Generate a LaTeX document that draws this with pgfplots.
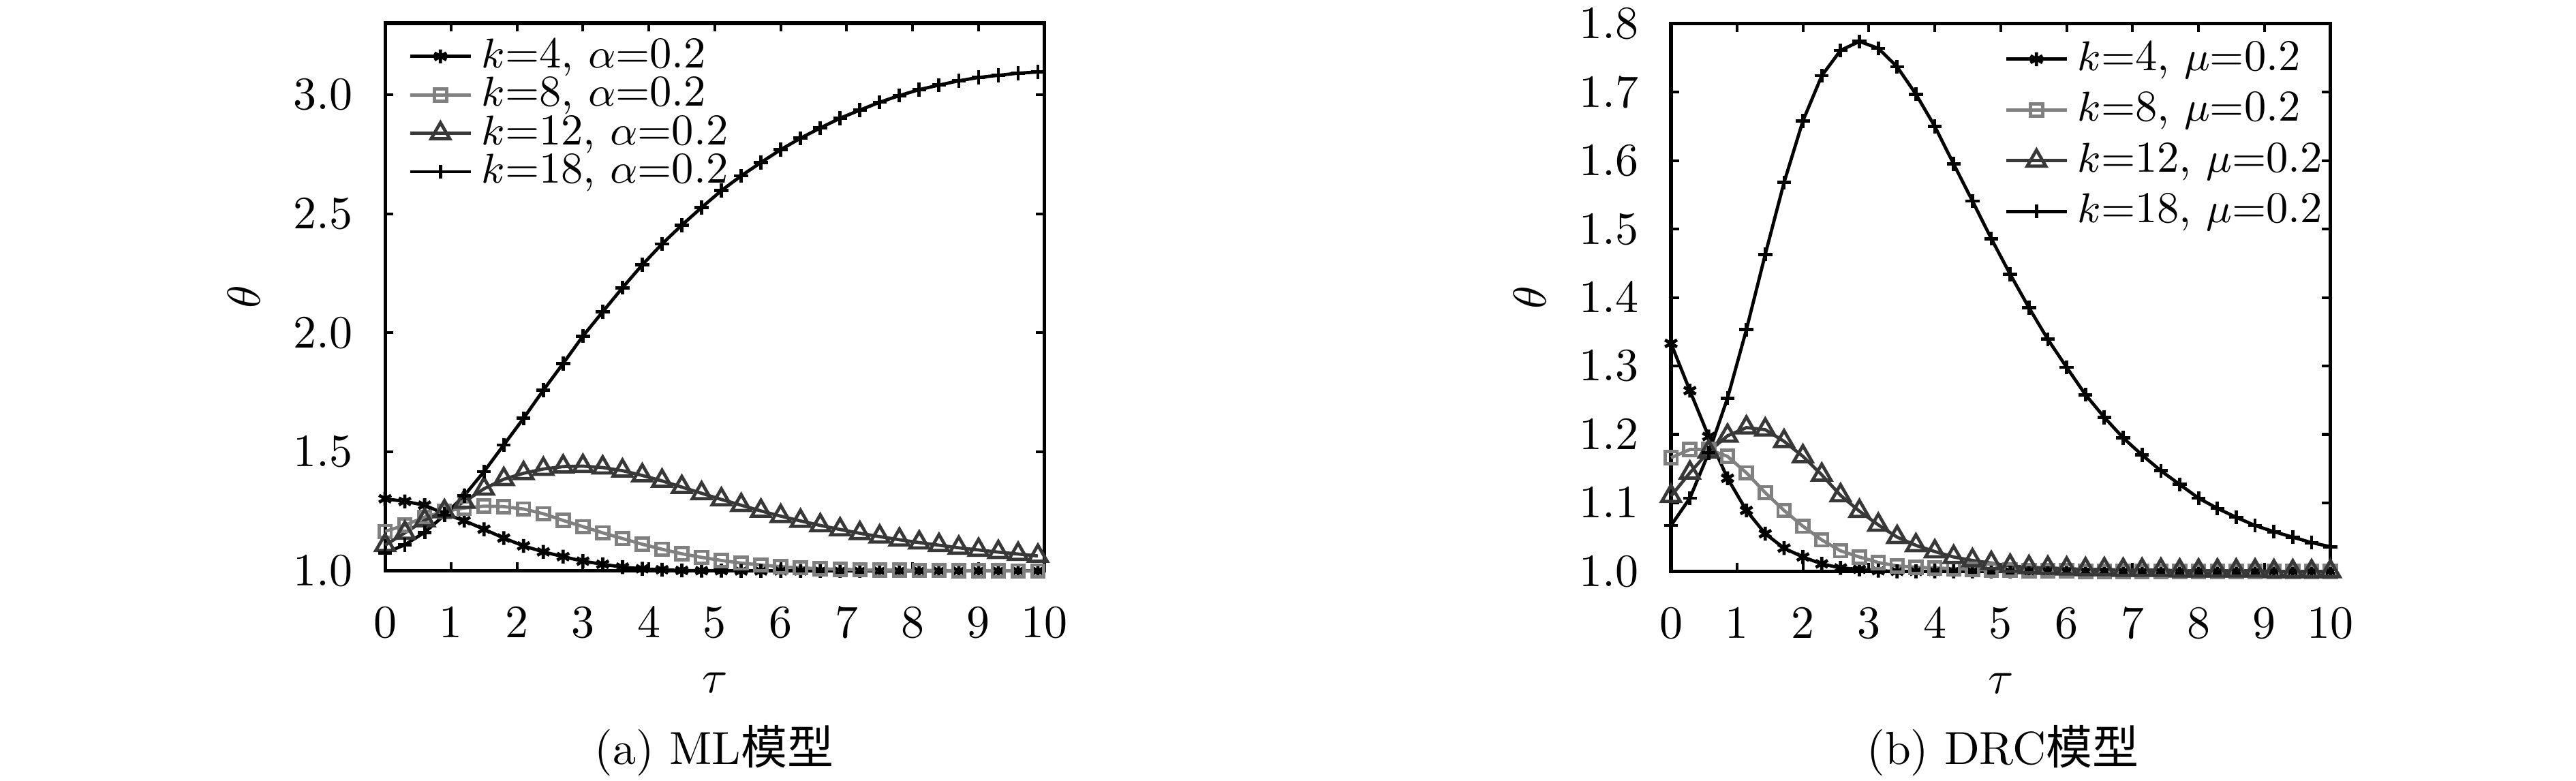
\documentclass[border=0pt]{standalone}
\usepackage{fontspec}
\usepackage{pgfplots}
\usepackage{pgfplotstable}
\pgfplotsset{compat=1.18}
\newfontfamily\cjk{Noto Sans CJK SC}
\definecolor{cgray}{gray}{0.5}
\definecolor{cdark}{gray}{0.22}

\pgfplotstableread{
t    a     b     c     d
0.0  1.303 1.166 1.108 1.075
0.3  1.292 1.192 1.160 1.110
0.6  1.276 1.226 1.212 1.162
0.9  1.240 1.250 1.250 1.234
1.2  1.211 1.264 1.290 1.316
1.5  1.175 1.272 1.345 1.417
1.8  1.138 1.270 1.385 1.529
2.1  1.105 1.260 1.410 1.641
2.4  1.080 1.240 1.428 1.759
2.7  1.060 1.212 1.438 1.871
3.0  1.041 1.186 1.440 1.986
3.3  1.028 1.160 1.434 2.088
3.6  1.016 1.136 1.421 2.189
3.9  1.009 1.112 1.401 2.285
4.2  1.005 1.091 1.378 2.373
4.5  1.002 1.072 1.352 2.452
4.8  1.001 1.057 1.326 2.526
5.1  1.001 1.044 1.300 2.597
5.4  1.000 1.033 1.276 2.659
5.7  1.000 1.025 1.252 2.715
6.0  1.000 1.018 1.230 2.769
6.3  1.000 1.013 1.210 2.817
6.6  1.000 1.009 1.191 2.860
6.9  1.000 1.007 1.174 2.901
7.2  1.000 1.005 1.158 2.935
7.5  1.000 1.004 1.144 2.968
7.8  1.000 1.003 1.131 2.996
8.1  1.000 1.002 1.119 3.021
8.4  1.000 1.002 1.108 3.040
8.7  1.000 1.001 1.097 3.058
9.0  1.000 1.001 1.088 3.072
9.3  1.000 1.001 1.079 3.081
9.6  1.000 1.000 1.071 3.090
9.9  1.000 1.000 1.063 3.095
}\leftdata

\pgfplotstableread{
t      a     b     c     d
0.000  1.333 1.166 1.110 1.067
0.286  1.264 1.178 1.144 1.107
0.571  1.197 1.178 1.175 1.173
0.857  1.136 1.168 1.198 1.253
1.143  1.089 1.144 1.210 1.353
1.429  1.055 1.115 1.207 1.463
1.714  1.034 1.089 1.190 1.568
2.000  1.021 1.066 1.168 1.658
2.286  1.011 1.046 1.141 1.724
2.571  1.005 1.030 1.111 1.761
2.857  1.003 1.021 1.088 1.774
3.143  1.001 1.013 1.068 1.764
3.429  1.000 1.008 1.050 1.737
3.714  1.000 1.006 1.038 1.697
4.000  1.000 1.005 1.029 1.650
4.286  1.000 1.004 1.021 1.595
4.571  1.000 1.003 1.016 1.541
4.857  1.000 1.002 1.012 1.486
5.143  1.000 1.002 1.008 1.434
5.429  1.000 1.001 1.006 1.385
5.714  1.000 1.001 1.005 1.339
6.000  1.000 1.001 1.004 1.298
6.286  1.000 1.000 1.003 1.258
6.571  1.000 1.000 1.003 1.225
6.857  1.000 1.000 1.002 1.195
7.143  1.000 1.000 1.002 1.170
7.429  1.000 1.000 1.002 1.147
7.714  1.000 1.000 1.001 1.127
8.000  1.000 1.000 1.001 1.107
8.286  1.000 1.000 1.001 1.092
8.571  1.000 1.000 1.001 1.079
8.857  1.000 1.000 1.001 1.067
9.143  1.000 1.000 1.000 1.058
9.429  1.000 1.000 1.000 1.050
9.714  1.000 1.000 1.000 1.042
10.000 1.000 1.000 1.000 1.036
}\rightdata

\pgfplotsset{
  base/.style={
    scale only axis, width=142.3pt, height=118.2pt,
    xmin=0, xmax=10, xtick={0,1,2,3,4,5,6,7,8,9,10},
    clip=false,
    axis line style={line width=0.75pt},
    every tick/.style={black, line width=0.6pt},
    major tick length=1.8pt,
    xticklabel style={yshift=-4.4pt},
    yticklabel style={xshift=-3.5pt},
    yticklabel={\pgfmathprintnumber[fixed,fixed zerofill,precision=1]{\tick}},
    xlabel={$\tau$}, ylabel={$\theta$},
    xlabel style={at={(axis description cs:0.5,-0.204)}, anchor=center},
    ylabel style={at={(axis description cs:-0.2143,0.5)}, anchor=center},
    legend cell align=left,
    legend image code/.code={\draw[mark repeat=2,mark phase=2,##1] plot coordinates {(0pt,0pt) (6.5pt,0pt) (13pt,0pt)};},
  },
  s4/.style={black, mark=asterisk, mark size=1.5pt, line width=0.7pt, mark options={solid}},
  s8/.style={cgray, mark=square, mark size=1.3pt, line width=0.7pt, mark options={solid}},
  s12/.style={cdark, mark=triangle, mark size=2.3pt, line width=0.7pt, mark options={solid}},
  s18/.style={black, mark=+, mark size=1.5pt, line width=0.7pt, mark options={solid}},
}

\begin{document}
\begin{tikzpicture}
\path[use as bounding box] (0,0) rectangle (555.9pt,168.5pt);

\begin{axis}[base, at={(83.1pt,45.3pt)}, anchor=south west,
  ymin=1, ymax=3.3, ytick={1.0,1.5,2.0,2.5,3.0},
  legend style={at={(0,1)}, anchor=north west, xshift=4.9pt, yshift=-3pt,
    draw=none, fill=none, inner sep=0pt, font=\fontsize{9.5}{11}\selectfont,
    nodes={inner sep=0pt}, row sep=0.45pt, column sep=2pt}]
\addplot[s4] table[x=t,y=a] {\leftdata};
\addlegendentry{$k$=4, $\alpha$=0.2}
\addplot[s8] table[x=t,y=b] {\leftdata};
\addlegendentry{$k$=8, $\alpha$=0.2}
\addplot[s12] table[x=t,y=c] {\leftdata};
\addlegendentry{$k$=12, $\alpha$=0.2}
\addplot[s18] table[x=t,y=d] {\leftdata};
\addlegendentry{$k$=18, $\alpha$=0.2}
\end{axis}

\begin{axis}[base, at={(360.6pt,45.2pt)}, anchor=south west,
  ymin=1, ymax=1.8, ytick={1.0,1.1,1.2,1.3,1.4,1.5,1.6,1.7,1.8},
  legend style={at={(1,1)}, anchor=north east, xshift=-1.5pt, yshift=-3.5pt,
    draw=none, fill=none, inner sep=0pt, font=\fontsize{9.5}{11}\selectfont,
    nodes={inner sep=0pt}, row sep=3.1pt, column sep=2pt}]
\addplot[s4] table[x=t,y=a] {\rightdata};
\addlegendentry{$k$=4, $\mu$=0.2}
\addplot[s8] table[x=t,y=b] {\rightdata};
\addlegendentry{$k$=8, $\mu$=0.2}
\addplot[s12] table[x=t,y=c] {\rightdata};
\addlegendentry{$k$=12, $\mu$=0.2}
\addplot[s18] table[x=t,y=d] {\rightdata};
\addlegendentry{$k$=18, $\mu$=0.2}
\end{axis}

\node[anchor=base] at (154.1pt,3.5pt) {(a) ML{\cjk 模型}};
\node[anchor=base] at (432.2pt,3.5pt) {(b) DRC{\cjk 模型}};
\end{tikzpicture}
\end{document}
